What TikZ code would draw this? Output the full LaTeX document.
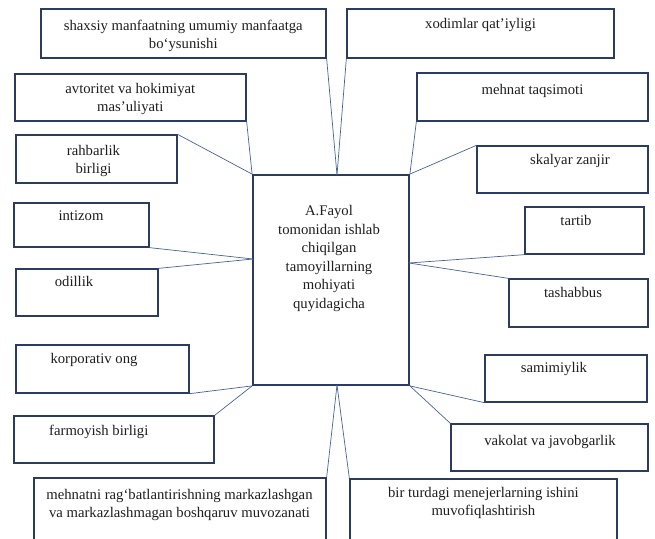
\documentclass[tikz,border=0pt]{standalone}
\usepackage{fontspec}
\setmainfont{Liberation Serif}
\usetikzlibrary{fit}
\definecolor{boxline}{RGB}{44,60,96}
\definecolor{conline}{RGB}{72,98,150}
\definecolor{txt}{RGB}{30,30,30}
\tikzset{
  pbox/.style={draw=boxline, line width=1.3pt, inner sep=0pt, fill=none},
  cbox/.style={draw=boxline, line width=1.8pt, inner sep=0pt},
  lbl/.style={inner sep=0pt, align=center, text=txt, anchor=base,
    font=\fontsize{14.7}{18.5}\selectfont},
  con/.style={draw=conline, line width=0.7pt},
}
\newcommand\mkbox[6][pbox]{%
  \path (#3,#4) coordinate (#2-a) (#5,#6) coordinate (#2-b);
  \node[#1, fit=(#2-a)(#2-b)] (#2) {};
}
\begin{document}
\begin{tikzpicture}[x=1pt,y=-1pt]
\useasboundingbox (0,0) rectangle (655,538);
\clip (0,0) rectangle (655,538);
% boxes
\mkbox{b1}{41}{9}{326}{58}
\mkbox{b2}{347}{9}{614}{58}
\mkbox{b3}{15}{74}{246}{121}
\mkbox{b4}{417}{73}{648}{121}
\mkbox{b5}{16}{135}{177}{183}
\mkbox{b6}{477}{146}{648}{193}
\mkbox{b7}{14}{203}{149}{247}
\mkbox{b8}{525}{207}{644}{254}
\mkbox{b9}{16}{269}{158}{316}
\mkbox{b10}{509}{279}{648}{327}
\mkbox{b11}{16}{345}{189}{393}
\mkbox{b12}{485}{355}{647}{402}
\mkbox{b13}{14}{416}{214}{463}
\mkbox{b14}{451}{424}{648}{471}
\mkbox{b15}{34}{478}{326}{560}
\mkbox{b16}{350}{479}{617}{560}
\mkbox[cbox]{c}{253}{175}{409}{385}
% texts (anchor = baseline of the last line)
\node[lbl] (t1) at (183.3,48.5) {shaxsiy manfaatning umumiy manfaatga\\bo‘ysunishi};
\node[lbl] (t2) at (480.5,28.5) {xodimlar qat’iyligi};
\node[lbl] (t3) at (130.3,111.5) {avtoritet va hokimiyat\\mas’uliyati};
\node[lbl] (t4) at (532.5,94) {mehnat taqsimoti};
\node[lbl] (t5) at (93.5,173.5) {rahbarlik\\birligi};
\node[lbl] (t6) at (570,164) {skalyar zanjir};
\node[lbl] (t7) at (81,220.7) {intizom};
\node[lbl] (t8) at (576,225) {tartib};
\node[lbl] (t9) at (74,286.7) {odillik};
\node[lbl] (t10) at (573,297.7) {tashabbus};
\node[lbl] (t11) at (94,363.3) {korporativ ong};
\node[lbl] (t12) at (554,372.7) {samimiylik};
\node[lbl] (t13) at (98.8,435) {farmoyish birligi};
\node[lbl] (t14) at (550,445.7) {vakolat va javobgarlik};
\node[lbl] (t15) at (179.5,517.5) {mehnatni rag‘batlantirishning markazlashgan\\va markazlashmagan boshqaruv muvozanati};
\node[lbl] (t16) at (483.4,515.5) {bir turdagi menejerlarning ishini\\muvofiqlashtirish};
\node[lbl] (tc) at (329,308) {A.Fayol\\tomonidan ishlab\\chiqilgan\\tamoyillarning\\mohiyati\\quyidagicha};
% connector points on central box
\coordinate (ctop) at (337,175);
\coordinate (cleft) at (253,259);
\coordinate (cright) at (409,263);
\coordinate (cbot) at (337,385);
% connectors
\draw[con] (b1.south east) -- (ctop);
\draw[con] (b2.south west) -- (ctop);
\draw[con] (b3.south east) -- (c.north west);
\draw[con] (b5.north east) -- (c.north west);
\draw[con] (b4.south west) -- (c.north east);
\draw[con] (b6.north west) -- (c.north east);
\draw[con] (b7.south east) -- (cleft);
\draw[con] (b9.north east) -- (cleft);
\draw[con] (b8.south west) -- (cright);
\draw[con] (b10.north west) -- (cright);
\draw[con] (b11.south east) -- (c.south west);
\draw[con] (b13.north east) -- (c.south west);
\draw[con] (b12.south west) -- (c.south east);
\draw[con] (b14.north west) -- (c.south east);
\draw[con] (b15.north east) -- (cbot);
\draw[con] (b16.north west) -- (cbot);
\end{tikzpicture}
\end{document}
